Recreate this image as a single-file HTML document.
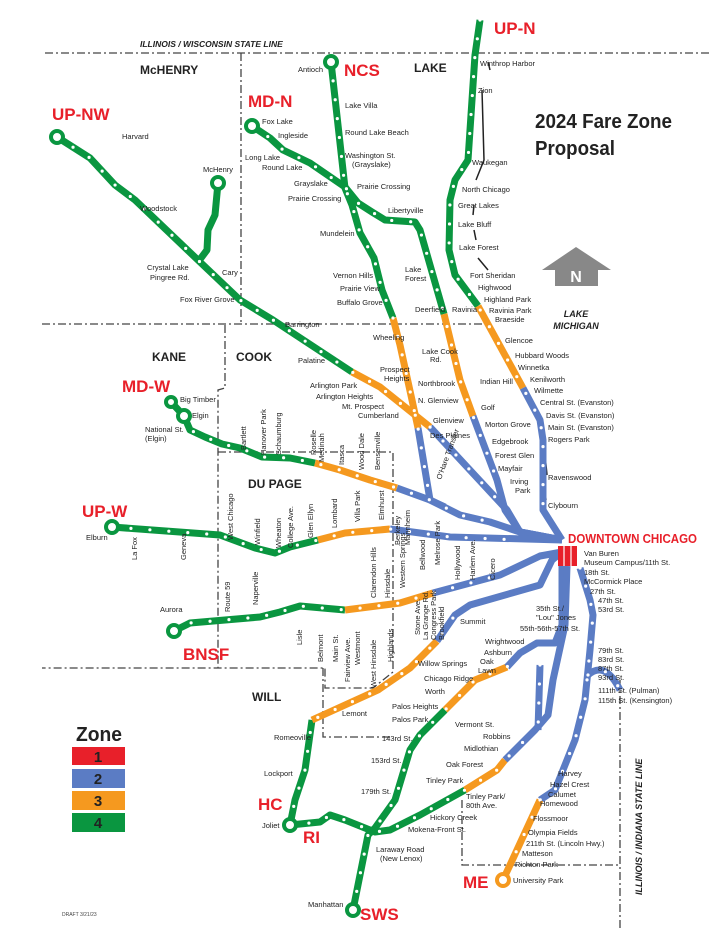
<!DOCTYPE html>
<html><head><meta charset="utf-8"><style>
html,body{margin:0;padding:0;background:#fff;}
svg{display:block;font-family:"Liberation Sans",sans-serif;}
.s{font-size:7.5px;fill:#222;}
.c{font-size:12px;font-weight:bold;fill:#222;}
.r{font-size:17px;font-weight:bold;fill:#e8202a;}
.cl{fill:none;stroke:#444;stroke-width:1.3;stroke-dasharray:8 3 2 3;}
.G{fill:none;stroke:#0a9640;stroke-width:7;stroke-linejoin:round;}
.B{fill:none;stroke:#5b7cc4;stroke-width:7;stroke-linejoin:round;}
.O{fill:none;stroke:#f5991f;stroke-width:7;stroke-linejoin:round;}
.d{fill:none;stroke:#fff;stroke-width:3.2;stroke-linecap:round;stroke-dasharray:0 19;}
.th{fill:none;stroke:#5b7cc4;stroke-width:7;}
</style></head><body>
<svg width="710" height="948" viewBox="0 0 710 948" xmlns="http://www.w3.org/2000/svg">
<path class="cl" d="M45 53 H710"/>
<path class="cl" d="M241 53 V323"/>
<path class="cl" d="M42 324 H485"/>
<path class="cl" d="M225 325 V388 L218 390 V668"/>
<path class="cl" d="M218 452 H393 V672 L373 688 H325 V668 H42"/>
<path class="cl" d="M323 668 V737 H392"/>
<path class="cl" d="M620 680 V930"/>
<path class="cl" d="M462 800 V865 H620"/>
<path d="M488 62 L490 70 M482 90 L484 160 L476 180 M474 205 L473 215 M474 230 L476 240 M478 258 L488 270" stroke="#222" stroke-width="1.5" fill="none"/>
<path d="M545 455 L547 475 M545 490 L546 500" stroke="#222" stroke-width="1.5" fill="none"/>
<text x="140" y="47" font-size="8.5" font-weight="bold" font-style="italic" fill="#222">ILLINOIS / WISCONSIN STATE LINE</text>
<text x="140" y="74" class="c">McHENRY</text>
<text x="414" y="72" class="c">LAKE</text>
<text x="152" y="361" class="c">KANE</text>
<text x="236" y="361" class="c">COOK</text>
<text x="248" y="488" class="c">DU PAGE</text>
<text x="252" y="701" class="c">WILL</text>
<text transform="translate(642,895) rotate(-90)" font-size="9" font-weight="bold" font-style="italic" fill="#222">ILLINOIS / INDIANA STATE LINE</text>

<text x="535" y="128" font-size="20" font-weight="bold" fill="#222" textLength="137" lengthAdjust="spacingAndGlyphs">2024 Fare Zone</text>
<text x="535" y="155" font-size="20" font-weight="bold" fill="#222" textLength="80" lengthAdjust="spacingAndGlyphs">Proposal</text>
<path d="M576 247 L611 270 H598 V286 H555 V270 H542 Z" fill="#888"/>
<text x="576" y="282" font-size="16" font-weight="bold" fill="#fff" text-anchor="middle">N</text>
<text x="576" y="317" font-size="9" font-weight="bold" font-style="italic" fill="#222" text-anchor="middle">LAKE</text>
<text x="576" y="329" font-size="9" font-weight="bold" font-style="italic" fill="#222" text-anchor="middle">MICHIGAN</text>

<path class="G" d="M480 20 L475 55 L468 160 L455 180 L450 200 L449 250 L455 275 L478 306"/>
<path class="O" d="M478 306 L523 388"/>
<path class="B" d="M523 388 L540 420 L543 440 L543 510 L562 540"/>
<path class="G" d="M331 62 L345 188 L352 205 L360 233 L374 258 L382 290 L393 318"/>
<path class="O" d="M393 318 L400 345 L412 400 L418 428"/>
<path class="B" d="M418 428 L430 500 L445 507"/>
<path class="G" d="M252 126 L270 138 L283 150 L310 163 L345 187 L358 203 L372 212 L385 220 L415 222 L420 230 L444 314"/>
<path class="O" d="M444 314 L460 380 L473 416"/>
<path class="B" d="M473 416 L497 480 L505 510 L520 532 L562 540"/>
<path class="G" d="M57 137 L90 158 L115 185 L135 200 L200 262 L240 300 L273 320 L352 372"/>
<path class="G" d="M218 183 L215 215 L208 230 L207 250 L198 262"/>
<path class="O" d="M352 372 L380 387 L430 427"/>
<path class="B" d="M430 427 L507 510 L520 532 L562 540"/>
<path class="G" d="M171 402 L184 416 L190 430 L205 437 L222 444 L240 448 L262 457 L290 458 L315 463"/>
<path class="O" d="M315 463 L340 470 L370 480 L397 488"/>
<path class="B" d="M397 488 L430 500 L460 515 L490 522 L520 532 L562 540"/>
<path class="G" d="M112 527 L220 535 L228 538 L255 548 L275 553 L290 547 L318 540"/>
<path class="O" d="M318 540 L345 533 L390 529"/>
<path class="B" d="M390 529 L450 537 L562 540"/>
<path class="G" d="M174 631 L190 623 L260 617 L280 612 L300 606 L345 610"/>
<path class="O" d="M345 610 L400 603 L433 593"/>
<path class="B" d="M433 593 L500 575 L540 556 L562 552"/>
<path class="G" d="M290 825 L295 800 L305 770 L312 720"/>
<path class="O" d="M312 720 L345 705 L378 690 L410 668 L437 641"/>
<path class="B" d="M437 641 L455 615 L470 605 L540 585 L552 560 L562 552"/>
<path class="G" d="M353 910 L368 835 L375 828 L395 800 L410 750 L420 735 L445 710"/>
<path class="O" d="M445 710 L475 680 L507 667"/>
<path class="B" d="M507 667 L520 653 L537 643 L555 643 L562 625 L562 552"/>
<path class="G" d="M290 825 L320 822 L330 815 L345 820 L375 832 L390 830 L420 815 L465 790"/>
<path class="O" d="M465 790 L497 770 L505 760"/>
<path class="B" d="M505 760 L535 730 L548 715 L553 680 L565 625 L567 566"/>
<path class="th" d="M540 665 L538 730" stroke-width="5"/>
<path class="d" d="M540 665 L538 730" stroke-dasharray="0 5" stroke-width="2.5"/>
<path class="B" d="M580 568 L590 600 L593 615 L590 650 L585 700 L575 740 L555 790 L540 800" stroke-width="6"/>
<path class="d" d="M580 568 L590 600 L593 615 L590 650 L585 700 L575 740 L555 790 L540 800" stroke-dasharray="0 5.5" stroke-width="2.5"/>
<path class="B" d="M588 675 Q605 660 620 690" stroke-width="6"/>
<path class="d" d="M588 675 Q605 660 620 690" stroke-dasharray="0 5.5" stroke-width="2.5"/>
<path class="O" d="M540 800 L510 865 L503 880"/>

<g class="d">
<path d="M480 20 L475 55 L468 160 L455 180 L450 200 L449 250 L455 275 L478 306 L523 388 L540 420 L543 440 L543 510"/>
<path d="M331 62 L345 188 L352 205 L360 233 L374 258 L382 290 L393 318 L400 345 L412 400 L418 428 L430 500"/>
<path d="M252 126 L270 138 L283 150 L310 163 L345 187 L358 203 L372 212 L385 220 L415 222 L420 230 L444 314 L460 380 L473 416 L497 480"/>
<path d="M57 137 L90 158 L115 185 L135 200 L200 262 L240 300 L273 320 L352 372 L380 387 L430 427 L507 510"/>
<path d="M184 416 L190 430 L205 437 L222 444 L240 448 L262 457 L290 458 L315 463 L340 470 L370 480 L397 488 L430 500 L460 515 L490 522"/>
<path d="M112 527 L220 535 L228 538 L255 548 L275 553 L290 547 L318 540 L345 533 L390 529 L450 537 L520 540"/>
<path d="M174 631 L190 623 L260 617 L280 612 L300 606 L345 610 L400 603 L433 593 L500 575"/>
<path d="M290 825 L295 800 L305 770 L312 720 L345 705 L378 690 L410 668 L437 641 L455 615"/>
<path d="M353 910 L368 835 L375 828 L395 800 L410 750 L420 735 L445 710 L475 680 L507 667 L520 653"/>
<path d="M290 825 L320 822 L330 815 L345 820 L375 832 L390 830 L420 815 L465 790 L497 770 L505 760 L535 730"/>
<path d="M540 800 L510 865"/>
</g>
<g fill="#fff" stroke="#0a9640" stroke-width="4">
<circle cx="331" cy="62" r="6"/><circle cx="252" cy="126" r="6"/><circle cx="57" cy="137" r="6"/>
<circle cx="218" cy="183" r="6"/><circle cx="171" cy="402" r="5"/><circle cx="184" cy="416" r="6"/>
<circle cx="112" cy="527" r="6"/><circle cx="174" cy="631" r="6"/><circle cx="290" cy="825" r="6"/>
<circle cx="353" cy="910" r="6"/>
</g>
<circle cx="503" cy="880" r="6" fill="#fff" stroke="#f5991f" stroke-width="4"/>
<rect x="558" y="546" width="19" height="20" fill="#e8202a"/>
<path d="M564 546 V566 M571 546 V566" stroke="#fff" stroke-width="1.2"/>
<text x="568" y="543" font-size="13" font-weight="bold" fill="#e8202a" textLength="129" lengthAdjust="spacingAndGlyphs">DOWNTOWN CHICAGO</text>
<text x="494" y="34" class="r">UP-N</text>
<text x="344" y="76" class="r">NCS</text>
<text x="248" y="107" class="r">MD-N</text>
<text x="52" y="120" class="r">UP-NW</text>
<text x="122" y="392" class="r">MD-W</text>
<text x="82" y="517" class="r">UP-W</text>
<text x="183" y="660" class="r">BNSF</text>
<text x="258" y="810" class="r">HC</text>
<text x="303" y="843" class="r">RI</text>
<text x="360" y="920" class="r">SWS</text>
<text x="463" y="888" class="r">ME</text>
<text x="76" y="741" font-size="20" font-weight="bold" fill="#222" textLength="46" lengthAdjust="spacingAndGlyphs">Zone</text>
<rect x="72" y="747" width="53" height="18" fill="#e8202a"/>
<rect x="72" y="769" width="53" height="19" fill="#5b7cc4"/>
<rect x="72" y="791" width="53" height="19" fill="#f5991f"/>
<rect x="72" y="813" width="53" height="19" fill="#0a9640"/>
<g font-size="15" font-weight="bold" fill="#222" text-anchor="middle">
<text x="98" y="762">1</text><text x="98" y="784">2</text><text x="98" y="806">3</text><text x="98" y="828">4</text></g>
<text x="62" y="916" font-size="5" fill="#444">DRAFT 3/21/23</text>
<g class="s">
<text x="298" y="72">Antioch</text><text x="345" y="108">Lake Villa</text><text x="345" y="135">Round Lake Beach</text>
<text x="345" y="158">Washington St.</text><text x="352" y="167">(Grayslake)</text><text x="357" y="189">Prairie Crossing</text>
<text x="262" y="124">Fox Lake</text><text x="278" y="138">Ingleside</text><text x="245" y="160">Long Lake</text><text x="262" y="170">Round Lake</text>
<text x="294" y="186">Grayslake</text><text x="288" y="201">Prairie Crossing</text><text x="388" y="213">Libertyville</text>
<text x="320" y="236">Mundelein</text><text x="333" y="278">Vernon Hills</text><text x="340" y="291">Prairie View</text><text x="337" y="305">Buffalo Grove</text>
<text x="405" y="272">Lake</text><text x="405" y="281">Forest</text><text x="415" y="312">Deerfield</text><text x="452" y="312">Ravinia</text>
<text x="480" y="66">Winthrop Harbor</text><text x="478" y="93">Zion</text><text x="472" y="165">Waukegan</text><text x="462" y="192">North Chicago</text>
<text x="458" y="208">Great Lakes</text><text x="458" y="227">Lake Bluff</text><text x="459" y="250">Lake Forest</text>
<text x="470" y="278">Fort Sheridan</text><text x="478" y="290">Highwood</text><text x="484" y="302">Highland Park</text><text x="489" y="313">Ravinia Park</text><text x="495" y="322">Braeside</text>
<text x="505" y="343">Glencoe</text><text x="515" y="358">Hubbard Woods</text><text x="518" y="370">Winnetka</text><text x="530" y="382">Kenilworth</text>
<text x="534" y="393">Wilmette</text><text x="540" y="405">Central St. (Evanston)</text><text x="546" y="418">Davis St. (Evanston)</text><text x="548" y="430">Main St. (Evanston)</text>
<text x="548" y="442">Rogers Park</text><text x="548" y="480">Ravenswood</text><text x="548" y="508">Clybourn</text>
<text x="122" y="139">Harvard</text><text x="140" y="211">Woodstock</text><text x="203" y="172">McHenry</text>
<text x="147" y="270">Crystal Lake</text><text x="150" y="280">Pingree Rd.</text><text x="222" y="275">Cary</text><text x="180" y="302">Fox River Grove</text>
<text x="285" y="327">Barrington</text><text x="298" y="363">Palatine</text><text x="373" y="340">Wheeling</text>
<text x="380" y="372">Prospect</text><text x="384" y="381">Heights</text><text x="310" y="388">Arlington Park</text><text x="316" y="399">Arlington Heights</text>
<text x="342" y="409">Mt. Prospect</text><text x="358" y="418">Cumberland</text>
<text x="422" y="354">Lake Cook</text><text x="430" y="362">Rd.</text><text x="418" y="386">Northbrook</text><text x="418" y="403">N. Glenview</text>
<text x="433" y="423">Glenview</text><text x="430" y="438">Des Plaines</text><text x="480" y="384">Indian Hill</text><text x="481" y="410">Golf</text>
<text x="485" y="427">Morton Grove</text><text x="492" y="444">Edgebrook</text><text x="495" y="458">Forest Glen</text><text x="498" y="471">Mayfair</text>
<text x="510" y="484">Irving</text><text x="515" y="493">Park</text>
<text x="180" y="402">Big Timber</text><text x="192" y="418">Elgin</text><text x="145" y="432">National St.</text><text x="145" y="441">(Elgin)</text>
<text x="86" y="540">Elburn</text><text x="160" y="612">Aurora</text>
<text x="274" y="740">Romeoville</text><text x="264" y="776">Lockport</text><text x="262" y="828">Joliet</text>
<text x="342" y="716">Lemont</text><text x="392" y="709">Palos Heights</text><text x="392" y="722">Palos Park</text><text x="425" y="694">Worth</text>
<text x="424" y="681">Chicago Ridge</text><text x="418" y="666">Willow Springs</text><text x="460" y="624">Summit</text>
<text x="485" y="644">Wrightwood</text><text x="484" y="655">Ashburn</text><text x="480" y="664">Oak</text><text x="478" y="673">Lawn</text>
<text x="455" y="727">Vermont St.</text><text x="483" y="739">Robbins</text><text x="464" y="751">Midlothian</text><text x="446" y="767">Oak Forest</text>
<text x="426" y="783">Tinley Park</text><text x="466" y="799">Tinley Park/</text><text x="466" y="808">80th Ave.</text>
<text x="430" y="820">Hickory Creek</text><text x="408" y="832">Mokena-Front St.</text><text x="376" y="852">Laraway Road</text><text x="380" y="861">(New Lenox)</text>
<text x="382" y="741">143rd St.</text><text x="371" y="763">153rd St.</text><text x="361" y="794">179th St.</text>
<text x="308" y="907">Manhattan</text><text x="513" y="883">University Park</text><text x="515" y="867">Richton Park</text>
<text x="522" y="856">Matteson</text><text x="526" y="846">211th St. (Lincoln Hwy.)</text><text x="528" y="835">Olympia Fields</text>
<text x="533" y="821">Flossmoor</text><text x="540" y="806">Homewood</text><text x="548" y="797">Calumet</text><text x="550" y="787">Hazel Crest</text><text x="558" y="776">Harvey</text>
<text x="584" y="556">Van Buren</text><text x="584" y="565">Museum Campus/11th St.</text><text x="584" y="575">18th St.</text><text x="584" y="584">McCormick Place</text>
<text x="590" y="594">27th St.</text><text x="598" y="603">47th St.</text><text x="598" y="612">53rd St.</text>
<text x="536" y="611">35th St./</text><text x="536" y="620">"Lou" Jones</text><text x="520" y="631">55th-56th-57th St.</text>
<text x="598" y="653">79th St.</text><text x="598" y="662">83rd St.</text><text x="598" y="671">87th St.</text><text x="598" y="680">93rd St.</text>
<text x="598" y="693">111th St. (Pulman)</text><text x="598" y="703">115th St. (Kensington)</text>
</g>
<g class="s">
<text transform="translate(233,540) rotate(-90)">West Chicago</text><text transform="translate(260,545) rotate(-90)">Winfield</text>
<text transform="translate(281,548) rotate(-90)">Wheaton</text><text transform="translate(293,548) rotate(-90)">College Ave.</text>
<text transform="translate(313,538) rotate(-90)">Glen Ellyn</text><text transform="translate(337,528) rotate(-90)">Lombard</text>
<text transform="translate(360,522) rotate(-90)">Villa Park</text><text transform="translate(384,520) rotate(-90)">Elmhurst</text>
<text transform="translate(137,560) rotate(-90)">La Fox</text><text transform="translate(186,560) rotate(-90)">Geneva</text>
<text transform="translate(230,612) rotate(-90)">Route 59</text><text transform="translate(258,605) rotate(-90)">Naperville</text>
<text transform="translate(302,645) rotate(-90)">Lisle</text><text transform="translate(323,662) rotate(-90)">Belmont</text>
<text transform="translate(338,662) rotate(-90)">Main St.</text><text transform="translate(350,682) rotate(-90)">Fairview Ave.</text>
<text transform="translate(360,665) rotate(-90)">Westmont</text><text transform="translate(376,688) rotate(-90)">West Hinsdale</text>
<text transform="translate(376,598) rotate(-90)">Clarendon Hills</text><text transform="translate(390,598) rotate(-90)">Hinsdale</text>
<text transform="translate(393,662) rotate(-90)">Highlands</text><text transform="translate(405,588) rotate(-90)">Western Springs</text>
<text transform="translate(420,635) rotate(-90)">Stone Ave.</text><text transform="translate(428,640) rotate(-90)">La Grange Rd.</text>
<text transform="translate(436,640) rotate(-90)">Congress Park</text><text transform="translate(444,640) rotate(-90)">Brookfield</text>
<text transform="translate(246,450) rotate(-90)">Bartlett</text><text transform="translate(266,455) rotate(-90)">Hanover Park</text>
<text transform="translate(281,455) rotate(-90)">Schaumburg</text><text transform="translate(316,455) rotate(-90)">Roselle</text>
<text transform="translate(324,462) rotate(-90)">Medinah</text><text transform="translate(344,465) rotate(-90)">Itasca</text>
<text transform="translate(364,470) rotate(-90)">Wood Dale</text><text transform="translate(380,470) rotate(-90)">Bensenville</text>
<text transform="translate(400,545) rotate(-90)">Berkeley</text><text transform="translate(410,545) rotate(-90)">Mannheim</text>
<text transform="translate(425,570) rotate(-90)">Bellwood</text><text transform="translate(440,565) rotate(-90)">Melrose Park</text>
<text transform="translate(460,580) rotate(-90)">Hollywood</text><text transform="translate(475,580) rotate(-90)">Harlem Ave.</text>
<text transform="translate(495,580) rotate(-90)">Cicero</text>
<text transform="translate(441,480) rotate(-70)">O'Hare Transfer</text>
</g>
</svg>
</body></html>
